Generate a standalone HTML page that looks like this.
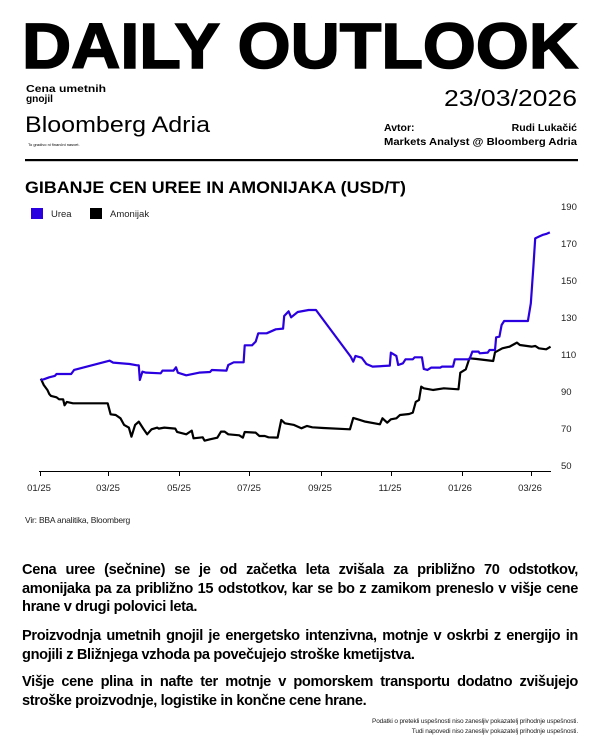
<!DOCTYPE html>
<html><head><meta charset="utf-8"><style>
body{margin:0;background:#fff;}
#p{position:relative;width:600px;height:750px;overflow:hidden;font-family:"Liberation Sans",sans-serif;color:#000;}
.a{position:absolute;white-space:nowrap;}
.para div{text-align:justify;text-align-last:justify;white-space:nowrap;}
.para div.l{text-align-last:left;}
.para{position:absolute;left:22px;width:556px;font-weight:bold;font-size:14.6px;line-height:18.5px;letter-spacing:-0.35px;}
</style></head><body><div id="p">
<svg class="a" style="left:0;top:0" width="600" height="200">
<text x="22" y="68" font-family="Liberation Sans" font-weight="bold" font-size="64" stroke="#000" stroke-width="1.6" textLength="556" lengthAdjust="spacingAndGlyphs">DAILY OUTLOOK</text>
<text x="26" y="92" font-weight="bold" font-size="10" textLength="80" lengthAdjust="spacingAndGlyphs">Cena umetnih</text>
<text x="26" y="102" font-weight="bold" font-size="10" textLength="27" lengthAdjust="spacingAndGlyphs">gnojil</text>
<text x="25" y="132" font-size="22" textLength="185" lengthAdjust="spacingAndGlyphs">Bloomberg Adria</text>
<text x="28" y="146" font-size="4">To gradivo ni finančni nasvet.</text>
<text x="577" y="106" font-size="23" text-anchor="end" textLength="133" lengthAdjust="spacingAndGlyphs">23/03/2026</text>
<text x="384" y="131" font-weight="bold" font-size="10.5">Avtor:</text>
<text x="577" y="131" font-weight="bold" font-size="10.5" text-anchor="end">Rudi Lukačić</text>
<text x="384" y="145" font-weight="bold" font-size="10.5" textLength="193" lengthAdjust="spacingAndGlyphs">Markets Analyst @ Bloomberg Adria</text>
<rect x="25" y="159" width="553" height="2.2" fill="#000"/>
<text x="25" y="193" font-weight="bold" font-size="17" textLength="381" lengthAdjust="spacingAndGlyphs">GIBANJE CEN UREE IN AMONIJAKA (USD/T)</text>
</svg>
<svg class="a" style="left:0;top:195px" width="600" height="310" viewBox="0 195 600 310">
<rect x="31" y="208" width="12" height="11" fill="#2a00e0"/>
<text x="51" y="217" font-size="9.5" fill="#222">Urea</text>
<rect x="90" y="208" width="12" height="11" fill="#000"/>
<text x="110" y="217" font-size="9.5" fill="#222">Amonijak</text>
<g font-size="9.5" fill="#222">
<text x="561" y="210">190</text><text x="561" y="247">170</text><text x="561" y="284">150</text><text x="561" y="321">130</text><text x="561" y="358">110</text><text x="561" y="395">90</text><text x="561" y="432">70</text><text x="561" y="469">50</text>
</g>
<line x1="39" y1="471.5" x2="551" y2="471.5" stroke="#000" stroke-width="1"/>
<g stroke="#000" stroke-width="1">
<line x1="40.5" y1="471" x2="40.5" y2="476"/><line x1="108.5" y1="471" x2="108.5" y2="476"/><line x1="179.5" y1="471" x2="179.5" y2="476"/><line x1="249.5" y1="471" x2="249.5" y2="476"/><line x1="321.5" y1="471" x2="321.5" y2="476"/><line x1="391.5" y1="471" x2="391.5" y2="476"/><line x1="462.5" y1="471" x2="462.5" y2="476"/><line x1="531.5" y1="471" x2="531.5" y2="476"/>
</g>
<g font-size="9.5" fill="#222" text-anchor="middle">
<text x="39" y="491">01/25</text><text x="108" y="491">03/25</text><text x="179" y="491">05/25</text><text x="249" y="491">07/25</text><text x="320" y="491">09/25</text><text x="390" y="491">11/25</text><text x="460" y="491">01/26</text><text x="530" y="491">03/26</text>
</g>
<g transform="translate(20,190) scale(0.3654,0.3333)" fill="none" stroke-linejoin="round">
<polyline vector-effect="non-scaling-stroke" stroke="#000" stroke-width="2.2" points="57,566 65,585 75,600 80,612 85,618 100,622 107,628 118,628 122,646 128,636 145,640 240,640 248,673 262,675 275,685 285,705 298,713 305,740 315,705 325,695 338,717 348,733 360,718 375,713 380,716 395,713 425,716 430,726 455,733 470,722 475,745 500,742 505,752 520,748 540,743 550,725 560,725 570,733 600,736 610,743 615,726 645,728 655,738 670,738 680,742 705,743 715,690 725,700 750,705 770,715 785,708 800,712 830,714 903,718 912,684 930,690 945,695 985,703 992,685 1005,698 1015,688 1030,685 1040,675 1065,672 1075,668 1083,636 1092,630 1098,590 1105,595 1130,600 1160,595 1200,598 1205,548 1220,538 1230,505 1250,507 1295,513 1300,487 1320,475 1340,470 1360,458 1368,465 1400,470 1410,468 1420,475 1440,478 1452,470"/>
<polyline vector-effect="non-scaling-stroke" stroke="#2a00e0" stroke-width="2.2" points="57,570 65,568 80,562 95,558 100,552 140,552 148,540 245,512 255,518 300,522 320,526 325,526 328,570 335,545 345,548 385,550 390,542 420,542 427,532 432,548 455,556 490,548 520,546 525,540 565,542 570,525 585,517 612,517 615,466 635,466 645,455 652,430 675,430 700,418 720,416 723,378 735,364 742,382 760,366 790,360 810,360 905,500 912,515 918,498 935,503 948,522 965,530 1012,527 1015,488 1030,498 1035,525 1048,520 1055,508 1075,508 1080,502 1100,502 1105,537 1115,540 1125,533 1150,533 1155,530 1185,530 1190,508 1230,508 1238,485 1255,485 1258,490 1280,488 1285,480 1300,480 1303,442 1312,440 1318,405 1325,393 1390,393 1398,340 1405,230 1410,145 1420,140 1430,135 1440,132 1450,127"/>
</g>
</svg>
<div class="a" style="left:25px;top:515px;font-size:8.5px;color:#222;letter-spacing:-0.2px">Vir: BBA analitika, Bloomberg</div>
<div class="para" style="top:561px">
<div>Cena uree (sečnine) se je od začetka leta zvišala za približno 70 odstotkov,</div>
<div>amonijaka pa za približno 15 odstotkov, kar se bo z zamikom preneslo v višje cene</div>
<div class="l">hrane v drugi polovici leta.</div>
</div>
<div class="para" style="top:627px">
<div>Proizvodnja umetnih gnojil je energetsko intenzivna, motnje v oskrbi z energijo in</div>
<div class="l">gnojili z Bližnjega vzhoda pa povečujejo stroške kmetijstva.</div>
</div>
<div class="para" style="top:673px">
<div>Višje cene plina in nafte ter motnje v pomorskem transportu dodatno zvišujejo</div>
<div class="l">stroške proizvodnje, logistike in končne cene hrane.</div>
</div>
<div class="a" style="right:22px;top:717px;font-size:6.5px;line-height:10px;text-align:right;color:#222;letter-spacing:-0.15px">Podatki o pretekli uspešnosti niso zanesljiv pokazatelj prihodnje uspešnosti.<br>Tudi napovedi niso zanesljiv pokazatelj prihodnje uspešnosti.</div>
</div></body></html>
